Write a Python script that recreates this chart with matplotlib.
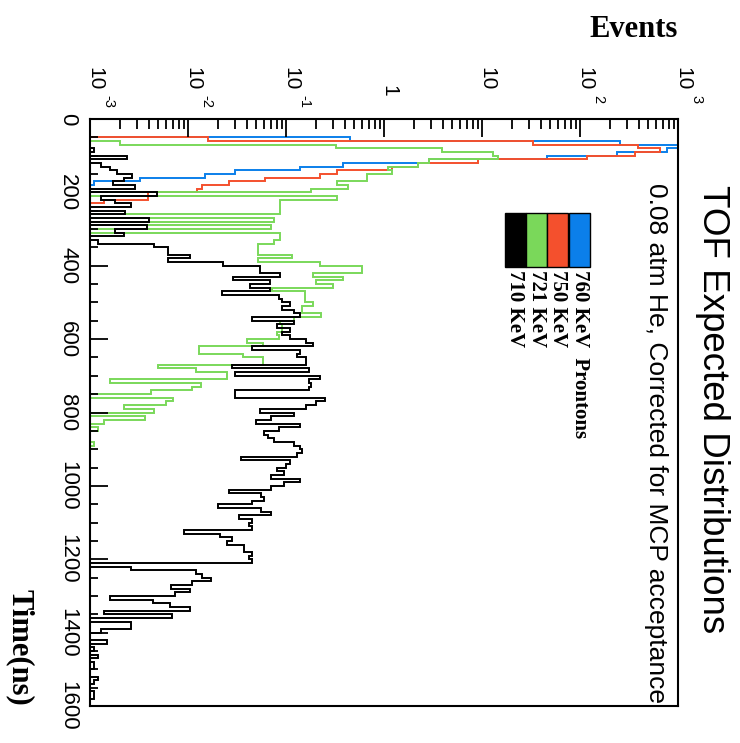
import numpy as np
import matplotlib.pyplot as plt
from matplotlib.patches import Rectangle
from matplotlib.ticker import LogLocator, MultipleLocator, NullFormatter
from matplotlib.transforms import offset_copy

plt.rcParams['font.family'] = ['Liberation Sans', 'DejaVu Sans']

# histogram binning (ns)
bin_width = 10
time_max = 1600

# bin contents, first bin starts at *_t0
blue_t0 = 50
blue = [0.45, 257, 1500, 780, 240, 46, 2.9, 0.38, 0.14, 0.030, 0.015, 0.0032, 0.0011]

red_t0 = 50
red = [0.016, 33, 390, 650, 360, 117, 9, 2.2, 1.2, 0.33, 0.22, 0.061, 0.026, 0.014,
       0.0123, 0.0039, 0.0039, 0.0014]

green_t0 = 60
green = [0.002, 0.32, 3.9, 13, 14.5, 2.9, 2.2, 1.1, 1.2, 0.67, 0.67, 0.33, 0.43, 0.18,
         0, 0.33, 0.087, 0.087, 0.087, 0.087, 0, 0.075, 0, 0.07, 0, 0.087, 0.087, 0.075,
         0.052, 0.052, 0.052, 0.115, 0.052, 0.22, 0.6, 0.6, 0.19, 0.38, 0.2, 0.3, 0.072,
         0.155, 0.155, 0.155, 0.19, 0.145, 0.145, 0.23, 0.12, 0.087, 0.09, 0.09, 0.08,
         0.085, 0.04, 0.058, 0.013, 0.013, 0.036, 0.058, 0.058, 0.005, 0.012, 0.025,
         0.025, 0.0016, 0.0135, 0.011, 0.0042, 0, 0.007, 0.006, 0.0022, 0.0045, 0,
         0.0036, 0.0014, 0, 0.0012, 0, 0, 0, 0.0011]

black_t0 = 0
black = [0, 0, 0, 0, 0, 0, 0, 0, 0.0011, 0,
         0.0024, 0, 0.0013, 0.0016, 0.0019, 0.0027, 0.0022, 0.0017, 0.0029, 0,
         0.0048, 0.0013, 0.0018, 0.0026, 0, 0.0023, 0, 0.004, 0, 0.0038,
         0.0018, 0.0022, 0, 0.0012, 0.0045, 0.0062, 0.0062, 0.0105, 0.0062, 0.023,
         0.054, 0.054, 0.087, 0.029, 0.069, 0.043, 0.069, 0.022, 0.085, 0.09,
         0.11, 0.09, 0.12, 0.14, 0.045, 0.12, 0.08, 0.11, 0.09, 0.11,
         0.16, 0.19, 0.045, 0.14, 0.13, 0.16, 0.16, 0.028, 0.17, 0.03,
         0.22, 0.17, 0.18, 0.17, 0.03, 0.03, 0.25, 0.2, 0.16, 0.054,
         0.12, 0.07, 0.05, 0.14, 0.085, 0.06, 0.065, 0.075, 0.12, 0.14,
         0.145, 0.13, 0.035, 0.11, 0.1, 0.08, 0.095, 0.07, 0.14, 0.095,
         0.07, 0.026, 0.055, 0.06, 0.045, 0.02, 0.055, 0.07, 0.033, 0.045,
         0.042, 0.045, 0.009, 0.021, 0.028, 0.025, 0.037, 0.037, 0.045, 0.042,
         0.045, 0, 0.0026, 0.012, 0.014, 0.017, 0.011, 0.0067, 0.0105, 0.0073,
         0.0016, 0.0044, 0.0065, 0.0105, 0.0014, 0.0068, 0, 0.0026, 0.0026, 0.0013,
         0, 0, 0.0015, 0, 0.0011, 0, 0.0012, 0, 0.0011, 0.0011,
         0, 0, 0.0012, 0.0011, 0, 0, 0.0011, 0.0011, 0, 0]

legend_labels = ['710 KeV', '721 KeV', '750 KeV', '760 KeV  Prontons']
time_ticks = [0, 200, 400, 600, 800, 1000, 1200, 1400, 1600]
event_decades = [-3, -2, -1, 0, 1, 2, 3]
event_base = ['10', '10', '10', '1', '10', '10', '10']
event_exp = ['-3', '-2', '-1', '', '', '2', '3']

c_blue = '#0b7fea'
c_red = '#f4502d'
c_green = '#7ad85a'
c_black = 'black'


def full_hist(t0, vals):
    h = np.zeros(time_max // bin_width)
    i0 = t0 // bin_width
    h[i0:i0 + len(vals)] = vals
    return h


fig = plt.figure(figsize=(7.4, 7.43), dpi=100)
ax = fig.add_axes([90 / 740, 1 - 706 / 743, 588 / 740, 587 / 743])

edges = np.arange(0, time_max + bin_width, bin_width)
for t0, vals, col in [(blue_t0, blue, c_blue), (red_t0, red, c_red),
                      (green_t0, green, c_green), (black_t0, black, c_black)]:
    h = full_hist(t0, vals)
    # empty bins drop to the bottom of the log axis, like ROOT does
    ax.stairs(np.where(h > 0, h, 1e-4), edges, orientation='horizontal',
              baseline=None, color=col, lw=1.4)

ax.set_xscale('log')
ax.set_xlim(1e-3, 1e3)
ax.set_ylim(time_max, 0)

for s in ax.spines.values():
    s.set_linewidth(1.5)

ax.xaxis.set_major_locator(LogLocator(base=10, numticks=10))
ax.xaxis.set_minor_locator(LogLocator(base=10, subs=np.arange(2, 10), numticks=100))
ax.xaxis.set_minor_formatter(NullFormatter())
ax.tick_params(axis='x', which='both', direction='in', top=True, bottom=False,
               labeltop=False, labelbottom=False, width=1.3)
ax.tick_params(axis='x', which='major', length=13)
ax.tick_params(axis='x', which='minor', length=7)

ax.set_yticks(time_ticks)
ax.set_yticklabels([str(t) for t in time_ticks])
ax.yaxis.set_minor_locator(MultipleLocator(50))
ax.tick_params(axis='y', which='both', direction='in', left=True, right=False, width=1.3)
ax.tick_params(axis='y', which='major', length=13, labelsize=16, pad=8.5, labelrotation=-90)
ax.tick_params(axis='y', which='minor', length=6)
for lbl in ax.get_yticklabels():
    lbl.set_va('center')
    lbl.set_ha('right')

# log tick labels, drawn rotated like the rest of the picture
for d, base, ex in zip(event_decades, event_base, event_exp):
    up = 29 if len(base) == 2 else 22
    tr = offset_copy(ax.get_xaxis_transform(), fig=fig, x=5, y=up, units='dots')
    ax.text(10.0 ** d, 1, base, transform=tr, rotation=-90, ha='center', va='bottom',
            fontsize=15, clip_on=False)
    if ex:
        tr2 = offset_copy(ax.get_xaxis_transform(), fig=fig, x=18, y=24, units='dots')
        ax.text(10.0 ** d, 1, ex, transform=tr2, rotation=-90, ha='center', va='top',
                fontsize=10.5, clip_on=False)

ax.text(1.0, 1.152, 'Events', transform=ax.transAxes, ha='right', va='center',
        fontsize=22, fontweight='bold', family='Liberation Serif')
ax.text(-0.119, 0.0, 'Time(ns)', transform=ax.transAxes, ha='center', va='bottom',
        rotation=-90, fontsize=22, fontweight='bold', family='Liberation Serif')

ax.text(1.058, 0.888, 'TOF Expected Distributions', transform=ax.transAxes,
        ha='center', va='top', rotation=-90, fontsize=26.5, clip_on=False)
ax.text(0.963, 0.891, '0.08 atm He, Corrected for MCP acceptance', transform=ax.transAxes,
        ha='center', va='top', rotation=-90, fontsize=19)

# legend: colour boxes side by side, labels underneath
box_x = [0.706, 0.742, 0.778, 0.815]
for bx, col, lab in zip(box_x, [c_black, c_green, c_red, c_blue], legend_labels):
    ax.add_patch(Rectangle((bx, 0.748), 0.035, 0.092, transform=ax.transAxes,
                           facecolor=col, edgecolor='black', lw=1.0))
    ax.text(bx + 0.0175, 0.742, lab, transform=ax.transAxes, ha='center', va='top',
            rotation=-90, fontsize=15, fontweight='bold', family='Liberation Serif')

fig.savefig('out.png', dpi=100)
